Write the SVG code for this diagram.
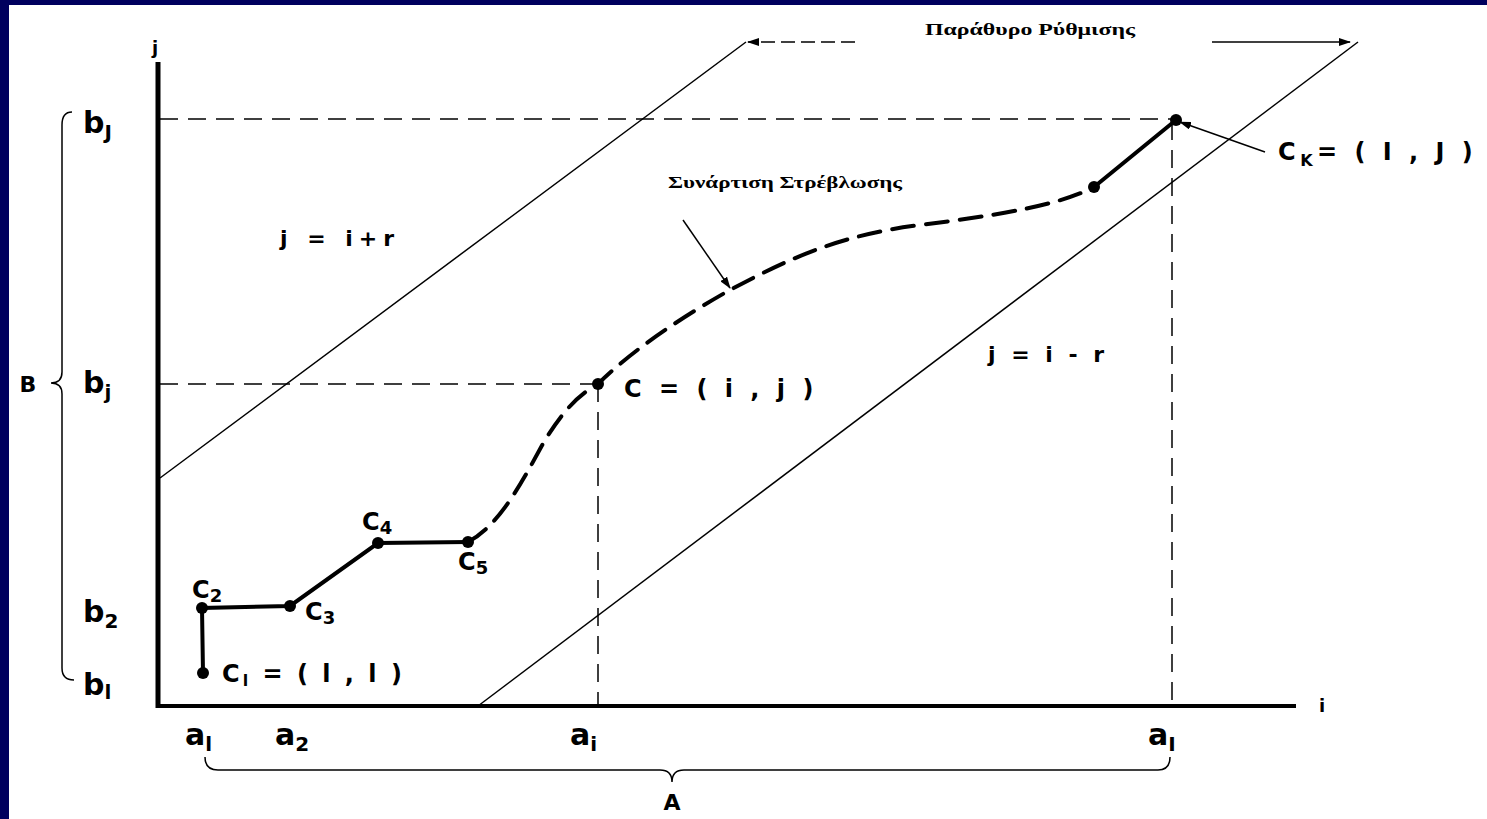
<svg xmlns="http://www.w3.org/2000/svg" width="1487" height="819" viewBox="0 0 1487 819">
<defs>
<marker id="ah" markerWidth="12" markerHeight="8" refX="11" refY="4" orient="auto" markerUnits="userSpaceOnUse">
<path d="M0,0 L12,4 L0,8 Z" fill="#000"/>
</marker>
<style>
.lbl{font-family:"DejaVu Sans","Liberation Sans",sans-serif;font-weight:bold;fill:#000}
.gr{font-family:"Liberation Serif","DejaVu Serif",serif;font-weight:bold;fill:#000}
.thin{stroke:#000;stroke-width:1.5;fill:none}
.dash{stroke:#000;stroke-width:1.5;fill:none;stroke-dasharray:18 10}
.path{stroke:#000;stroke-width:4;fill:none;stroke-linecap:round}
.pt{fill:#000}
</style>
</defs>
<rect x="0" y="0" width="1487" height="819" fill="#ffffff"/>
<rect x="0" y="0" width="1487" height="5" fill="#00005e"/>
<rect x="0" y="0" width="9" height="819" fill="#00005e"/>

<g id="axes">
<line x1="158" y1="62" x2="158" y2="708" stroke="#000" stroke-width="5"/>
<line x1="156" y1="706" x2="1296" y2="706" stroke="#000" stroke-width="4"/>
<text class="lbl" x="155" y="54" font-size="18" text-anchor="middle" font-weight="normal">j</text>
<text class="lbl" x="1322" y="712" font-size="18" text-anchor="middle" font-weight="normal">i</text>
</g>

<g id="guides">
<line class="dash" x1="160" y1="119" x2="1172" y2="119"/>
<line class="dash" x1="160" y1="384" x2="598" y2="384"/>
<line class="dash" x1="598" y1="384" x2="598" y2="704" stroke-dasharray="14 8"/>
<line class="dash" x1="1172" y1="122" x2="1172" y2="704" stroke-dasharray="14 8"/>
</g>

<g id="band-lines">
<line class="thin" x1="160" y1="478" x2="746" y2="42"/>
<line class="thin" x1="478" y1="706" x2="1358" y2="42"/>
<text class="lbl" x="280" y="246" font-size="22" letter-spacing="6">j = i+r</text>
<text class="lbl" x="988" y="362" font-size="22" letter-spacing="4">j = i - r</text>
</g>

<g id="window">
<line class="thin" x1="855" y1="42" x2="748" y2="42" stroke-dasharray="14 6" marker-end="url(#ah)"/>
<line class="thin" x1="1212" y1="42" x2="1350" y2="42" marker-end="url(#ah)"/>
<text class="gr" x="925" y="35" font-size="16" textLength="210" lengthAdjust="spacingAndGlyphs">Παράθυρο Ρύθμισης</text>
</g>

<g id="warp">
<polyline class="path" points="203,673 202,608 290,606 378,543 468,542"/>
<path class="path" d="M468,542 C500,525 522,482 545,440 C565,408 580,394 598,384 C630,352 680,318 730,290 C790,258 840,235 920,225 C1000,215 1060,205 1094,187" stroke-dasharray="22 12" stroke-linecap="butt"/>
<line class="path" x1="1094" y1="187" x2="1176" y2="120" stroke-width="4.5"/>
<circle class="pt" cx="203" cy="673" r="6"/>
<circle class="pt" cx="202" cy="608" r="6"/>
<circle class="pt" cx="290" cy="606" r="6"/>
<circle class="pt" cx="378" cy="543" r="6"/>
<circle class="pt" cx="468" cy="542" r="6"/>
<circle class="pt" cx="598" cy="384" r="6"/>
<circle class="pt" cx="1094" cy="187" r="6"/>
<circle class="pt" cx="1176" cy="120" r="6"/>
</g>

<g id="point-labels">
<text class="lbl" x="222" y="682" font-size="24" font-weight="normal" letter-spacing="3">C<tspan font-size="16" dy="4">l</tspan><tspan dy="-4"> = ( l , l )</tspan></text>
<text class="lbl" x="192" y="598" font-size="24" font-weight="normal">C<tspan font-size="18" dy="4">2</tspan></text>
<text class="lbl" x="305" y="620" font-size="24" font-weight="normal">C<tspan font-size="18" dy="4">3</tspan></text>
<text class="lbl" x="362" y="530" font-size="24" font-weight="normal">C<tspan font-size="18" dy="4">4</tspan></text>
<text class="lbl" x="458" y="570" font-size="24" font-weight="normal">C<tspan font-size="18" dy="4">5</tspan></text>
<text class="lbl" x="624" y="397" font-size="24" font-weight="normal" letter-spacing="4.5">C = ( i , j )</text>
<text class="lbl" x="1278" y="160" font-size="24" font-weight="normal" letter-spacing="4.5">C<tspan font-size="16" dy="6">K</tspan><tspan dy="-6">= ( I , J )</tspan></text>
<line class="thin" x1="1265" y1="152" x2="1180" y2="122" marker-end="url(#ah)"/>
</g>

<g id="warp-label">
<text class="gr" x="668" y="188" font-size="16" textLength="234" lengthAdjust="spacingAndGlyphs">Συνάρτιση Στρέβλωσης</text>
<line class="thin" x1="683" y1="220" x2="730" y2="288" marker-end="url(#ah)"/>
</g>

<g id="b-labels">
<text class="lbl" x="83" y="133" font-size="30">b<tspan font-size="20" dy="6">J</tspan></text>
<text class="lbl" x="83" y="393" font-size="30">b<tspan font-size="20" dy="6">j</tspan></text>
<text class="lbl" x="83" y="622" font-size="30">b<tspan font-size="20" dy="6">2</tspan></text>
<text class="lbl" x="83" y="695" font-size="30">b<tspan font-size="20" dy="4">l</tspan></text>
<path class="thin" d="M72,112 Q62,112 62,125 L62,372 Q62,383 51,383 Q62,383 62,394 L62,668 Q62,680 74,680"/>
<text class="lbl" x="28" y="392" font-size="22" text-anchor="middle" font-weight="normal">B</text>
</g>

<g id="a-labels">
<text class="lbl" x="185" y="745" font-size="30">a<tspan font-size="20" dy="6">l</tspan></text>
<text class="lbl" x="275" y="745" font-size="30">a<tspan font-size="20" dy="6">2</tspan></text>
<text class="lbl" x="570" y="745" font-size="30">a<tspan font-size="20" dy="6">i</tspan></text>
<text class="lbl" x="1148" y="745" font-size="30">a<tspan font-size="20" dy="6">I</tspan></text>
<path class="thin" d="M205,757 Q205,770 218,770 L660,770 Q672,770 672,782 Q672,770 684,770 L1158,770 Q1170,770 1170,757"/>
<text class="lbl" x="672" y="810" font-size="22" text-anchor="middle" font-weight="normal">A</text>
</g>
</svg>
